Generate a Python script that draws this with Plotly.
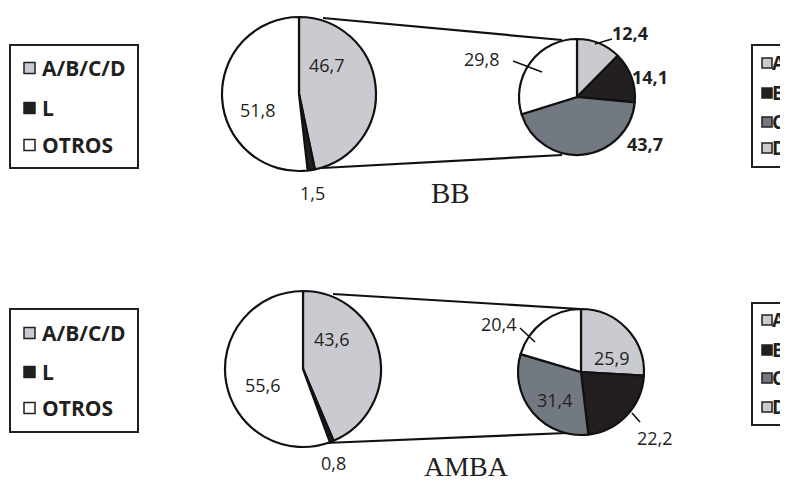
import plotly.graph_objects as go

# The page body adds an 8px margin, so the figure is drawn 8px smaller and
# reference pixel coordinates are shifted by that offset.
OFF = 8
W, H = 788 - OFF, 484 - OFF

# ---------------- data ----------------
main_labels = ["A/B/C/D", "L", "OTROS"]
bb_main = [46.7, 1.5, 51.8]
amba_main = [43.6, 0.8, 55.6]

sub_labels = ["A", "B", "C", "D"]
bb_sub = [12.4, 14.1, 43.7, 29.8]
amba_sub = [25.9, 22.2, 31.4, 20.4]

titles = ["BB", "AMBA"]

# ---------------- style ----------------
LIGHT = "#c9cbd0"
BLACK = "#231f20"
DARK = "#737980"
WHITE = "#ffffff"
main_colors = [LIGHT, BLACK, WHITE]
sub_colors = [LIGHT, BLACK, DARK, WHITE]
legend_sub_colors = [LIGHT, BLACK, DARK, LIGHT]

SANS = "Open Sans"
SERIF = "Liberation Serif"


def X(px):
    return (px - OFF) / W


def Y(py):
    return 1 - (py - OFF) / H


def fmt(v):
    return f"{v:.1f}".replace(".", ",")


def domain(cx, cy, r):
    return dict(x=[X(cx - r), X(cx + r)], y=[Y(cy + r), Y(cy - r)])


fig = go.Figure()

pies = [
    (bb_main, main_colors, (299, 94, 77)),
    (bb_sub, sub_colors, (577, 97, 58)),
    (amba_main, main_colors, (303, 369, 78)),
    (amba_sub, sub_colors, (581, 372, 63)),
]
for vals, cols, (cx, cy, r) in pies:
    fig.add_trace(go.Pie(
        values=vals, labels=list(range(len(vals))), sort=False,
        direction="clockwise", rotation=0, textinfo="none",
        hoverinfo="skip", showlegend=False,
        marker=dict(colors=cols, line=dict(color="#111111", width=2.2)),
        domain=domain(cx, cy, r),
    ))

shapes = []
annotations = []

# connector lines
for (x0, y0, x1, y1) in [(323, 18, 562, 40), (322, 168, 562, 155),
                         (333, 294, 580, 309), (325, 443, 567, 433)]:
    shapes.append(dict(type="line", xref="paper", yref="paper",
                       x0=X(x0), y0=Y(y0), x1=X(x1), y1=Y(y1),
                       line=dict(color="#111111", width=2.2), layer="below"))

# leader lines
for (x0, y0, x1, y1) in [(513, 61, 542, 72), (595, 44, 612, 39),
                         (520, 328, 535, 342), (632, 413, 640, 422)]:
    shapes.append(dict(type="line", xref="paper", yref="paper",
                       x0=X(x0), y0=Y(y0), x1=X(x1), y1=Y(y1),
                       line=dict(color="#111111", width=1.6)))


def label(text, px, py, size=18, bold=False, font=SANS, color="#231f20"):
    annotations.append(dict(
        text=f"<b>{text}</b>" if bold else text, x=X(px), y=Y(py),
        xref="paper", yref="paper", showarrow=False,
        xanchor="center", yanchor="middle",
        font=dict(family=font, size=size, color=color)))


# value labels
bb_main_pos = [(327, 65, False), (312, 193, False), (258, 110, False)]
for v, (px, py, b) in zip(bb_main, bb_main_pos):
    label(fmt(v), px, py, bold=b)
bb_sub_pos = [(630, 33, True), (650, 77, True), (645, 144, True), (482, 59, False)]
for v, (px, py, b) in zip(bb_sub, bb_sub_pos):
    label(fmt(v), px, py, bold=b)
amba_main_pos = [(332, 339, False), (333, 463, False), (263, 385, False)]
for v, (px, py, b) in zip(amba_main, amba_main_pos):
    label(fmt(v), px, py, bold=b)
amba_sub_pos = [(612, 358, False), (655, 438, False), (555, 400, False), (499, 324, False)]
for v, (px, py, b) in zip(amba_sub, amba_sub_pos):
    label(fmt(v), px, py, bold=b)

# titles
label(titles[0], 450, 193, size=29, font=SERIF, color="#231f20")
label(titles[1], 466, 466, size=28, font=SERIF, color="#231f20")

# left legend boxes
for (top, rows) in [(45, [68, 108, 145]), (309, [333, 372, 408])]:
    shapes.append(dict(type="rect", xref="paper", yref="paper",
                       x0=X(10), x1=X(138), y0=Y(top), y1=Y(top + 123),
                       line=dict(color="#231f20", width=2), fillcolor="rgba(0,0,0,0)"))
    for lab, col, ry in zip(main_labels, main_colors, rows):
        shapes.append(dict(type="rect", xref="paper", yref="paper",
                           x0=X(24), x1=X(35), y0=Y(ry + 5.5), y1=Y(ry - 5.5),
                           line=dict(color="#231f20", width=1.5), fillcolor=col))
        annotations.append(dict(
            text=f"<b>{lab}</b>", x=X(40), y=Y(ry), xref="paper", yref="paper",
            showarrow=False, xanchor="left", yanchor="middle",
            font=dict(family=SANS, size=21, color="#231f20")))

# right legend boxes (cut off by the frame)
for (top, rows) in [(45, [63, 93, 122, 148]), (303, [320, 350, 378, 407])]:
    shapes.append(dict(type="rect", xref="paper", yref="paper",
                       x0=X(752), x1=X(830), y0=Y(top), y1=Y(top + 122),
                       line=dict(color="#231f20", width=2), fillcolor="rgba(0,0,0,0)"))
    for lab, col, ry in zip(sub_labels, legend_sub_colors, rows):
        shapes.append(dict(type="rect", xref="paper", yref="paper",
                           x0=X(762), x1=X(772), y0=Y(ry + 5), y1=Y(ry - 5),
                           line=dict(color="#231f20", width=1.5), fillcolor=col))
        annotations.append(dict(
            text=f"<b>{lab}</b>", x=X(770), y=Y(ry), xref="paper", yref="paper",
            showarrow=False, xanchor="left", yanchor="middle",
            font=dict(family=SANS, size=19, color="#231f20")))

fig.update_layout(
    width=W, height=H, autosize=False,
    margin=dict(l=0, r=0, t=0, b=0),
    paper_bgcolor="white", plot_bgcolor="white",
    shapes=shapes, annotations=annotations,
)

fig.write_html("out.html", config={"displayModeBar": False})
